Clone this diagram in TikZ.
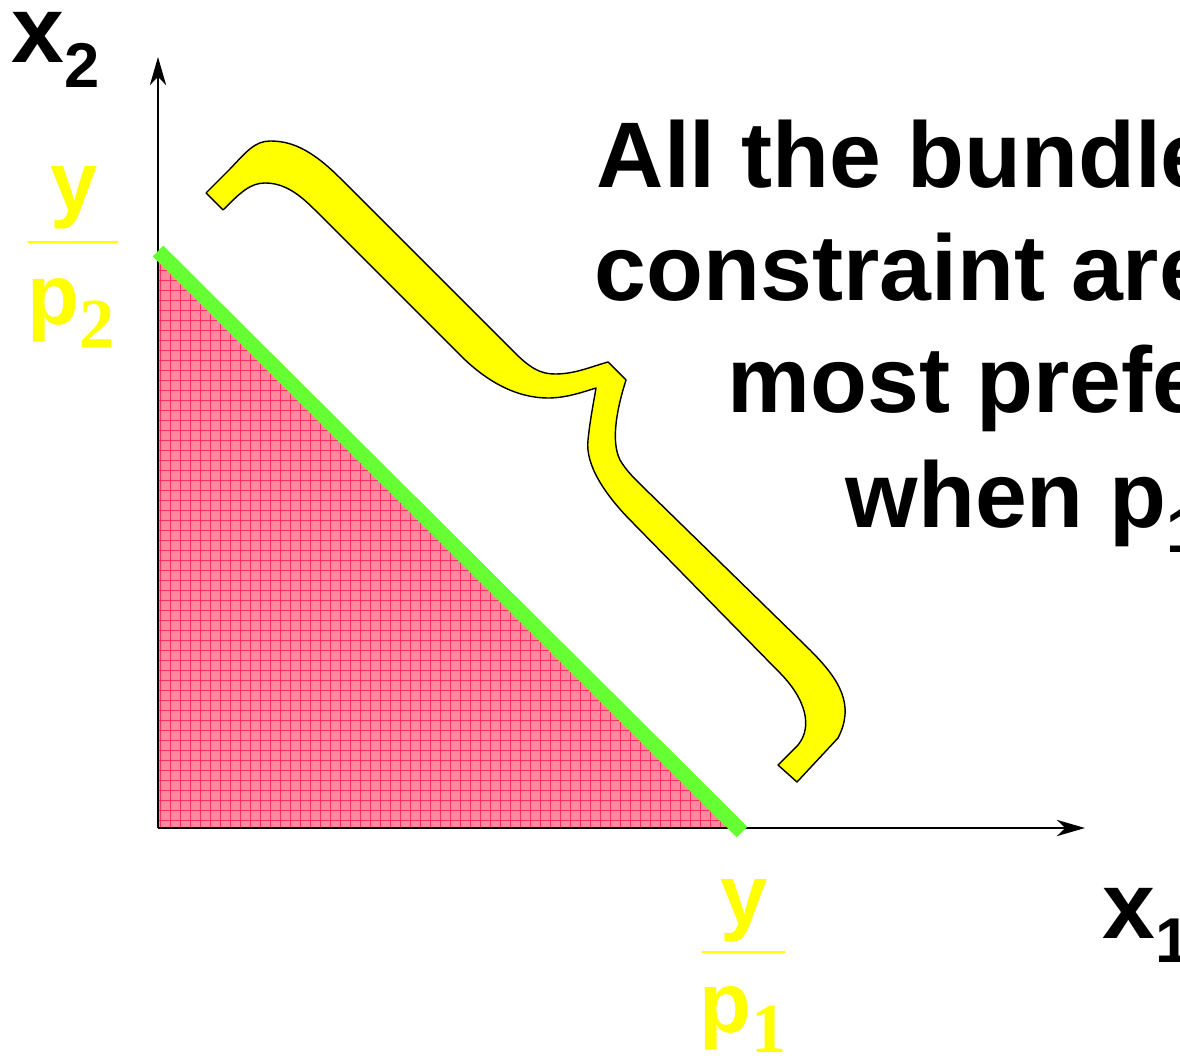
\documentclass[tikz,border=0pt]{standalone}
\usepackage{fontspec}
\setmainfont{Liberation Sans}
\newfontfamily\subserif{Liberation Serif}
\usetikzlibrary{arrows.meta}
\definecolor{bandfill}{HTML}{FF8AA0}
\definecolor{bandgrid}{HTML}{FF2E66}
\definecolor{budget}{HTML}{66FF33}
\definecolor{brace}{HTML}{FFFF00}
\definecolor{ylabel}{HTML}{FFFF00}
\tikzset{
  axisline/.style={
    -{Stealth[length=8pt, width=4.6pt, inset=2.4pt]}, line width=0.75pt, black
  },
  budgetline/.style={line width=4.3pt, color=budget},
  gridline/.style={line width=0.25pt, color=bandgrid},
  bracebox/.style={fill=brace, draw=black, line width=0.4pt, line join=round},
  fracbar/.style={line width=0.6pt, color=ylabel},
  axislabel/.style={
    inner sep=0pt, anchor=base west, font=\fontsize{27}{30}\selectfont\bfseries
  },
  yellowlabel/.style={
    inner sep=0pt, anchor=base, text=ylabel,
    font=\fontsize{24.2}{28}\selectfont\bfseries
  },
  bigtext/.style={
    inner sep=0pt, anchor=base west, font=\fontsize{26.5}{32}\selectfont\bfseries
  },
}

\begin{document}
\begin{tikzpicture}[x=0.01cm, y=-0.01cm]
\useasboundingbox (0,0) rectangle (1180,1058);
\clip (0,0) rectangle (1180,1058);

\coordinate (origin) at (158,828);
\coordinate (ytip) at (158,57);
\coordinate (xtip) at (1085,828);
\coordinate (yint) at (158,251);
\coordinate (xint) at (742,832);

% feasible set
\fill[bandfill] (origin) -- (yint) -- (xint |- origin) -- cycle;
\begin{scope}
  \clip (origin) -- (yint) -- (xint |- origin) -- cycle;
  \draw[gridline] (150,240) grid[step=0.1cm] (750,830);
\end{scope}

\draw[axisline] (origin) -- (ytip);
\draw[axisline] (origin) -- (xtip);
\draw[budgetline] (yint) -- (xint);

% brace
\draw[bracebox] (206,193) -- (230,169)
  .. controls (246,152) and (255,141) .. (270,141)
  .. controls (290,141) and (310,148) .. (340,178)
  -- (513,351)
  .. controls (530,368) and (540,374) .. (555,374)
  .. controls (575,374) and (590,367) .. (608,362)
  -- (626,380)
  .. controls (618,405) and (610,440) .. (620,460)
  .. controls (626,470) and (632,476) .. (640,484)
  -- (810,650)
  .. controls (840,680) and (855,705) .. (838,738)
  -- (797,782) -- (778,765) -- (798,745)
  .. controls (812,728) and (808,700) .. (777,670)
  -- (633,523)
  .. controls (605,495) and (585,465) .. (588,440)
  .. controls (590,420) and (594,400) .. (596,388)
  .. controls (580,393) and (565,398) .. (548,398)
  .. controls (520,398) and (490,385) .. (460,355)
  -- (315,210)
  .. controls (300,195) and (285,183) .. (265,183)
  .. controls (250,183) and (240,193) .. (223,210)
  -- cycle;

% axis labels
\node[axislabel] (xtwo) at (11,63)
  {x\raisebox{-0.24cm}{\fontsize{18}{20}\selectfont 2}};
\node[axislabel] (xone) at (1102,938)
  {x\raisebox{-0.24cm}{\fontsize{18}{20}\selectfont 1}};

% intercepts
\node[yellowlabel] (ytop2) at (74,212) {y};
\draw[fracbar] (28,242) -- (118,242);
\node[yellowlabel] (pbot2) at (71,324)
  {p\raisebox{-0.23cm}{\subserif\fontsize{20}{22}\selectfont 2}};
\node[yellowlabel] (ytop1) at (744,924) {y};
\draw[fracbar] (702,952) -- (785,952);
\node[yellowlabel] (pbot1) at (743,1032)
  {p\raisebox{-0.2cm}{\subserif\fontsize{20}{22}\selectfont 1}};

% statement
\node[bigtext] (line1) at (596,188) {All the bundle};
\node[bigtext] (line2) at (594,300) {constraint are};
\node[bigtext] (line3) at (727,412) {most prefe};
\node[bigtext] (line4) at (845,527)
  {when p\raisebox{-0.25cm}{\fontsize{18}{20}\selectfont 1}};
\end{tikzpicture}
\end{document}
